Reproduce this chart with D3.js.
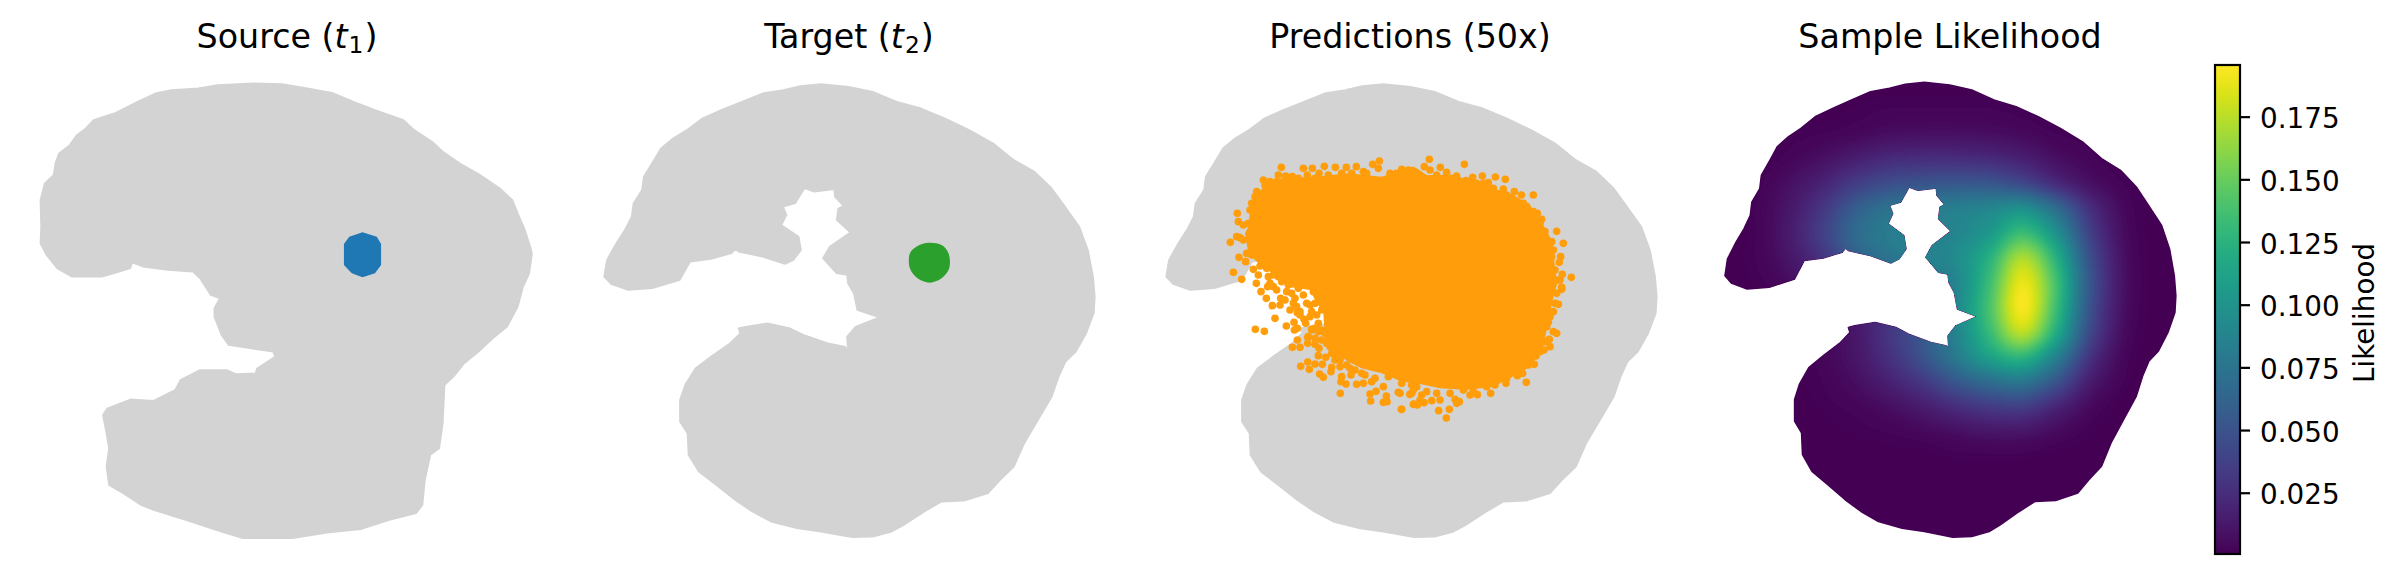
<!DOCTYPE html>
<html>
<head>
<meta charset="utf-8">
<script src="https://cdn.jsdelivr.net/npm/d3@7"></script>
<style>
  html, body { margin: 0; background: #fff; }
  svg { display: block; }
  text { font-family: "DejaVu Sans", sans-serif; fill: #000; }
</style>
</head>
<body>
<div id="chart"></div>
<script>
// slice outlines (spatial units, no meaning beyond the slice)
var sourceOutline = [[113,420],[125,370],[150,345],[155,310],[165,280],[195,255],[215,225],[240,205],[262,180],[320,160],[385,125],[435,100],[480,90],[555,85],[610,75],[710,70],[790,72],[860,85],[930,98],[990,125],[1050,150],[1130,180],[1160,210],[1210,245],[1240,275],[1295,315],[1345,345],[1400,385],[1435,420],[1450,460],[1470,510],[1485,560],[1490,580],[1482,640],[1465,680],[1450,740],[1420,800],[1380,835],[1340,875],[1300,910],[1270,950],[1245,975],[1240,1090],[1230,1165],[1205,1185],[1190,1260],[1183,1335],[1165,1360],[1090,1380],[1010,1408],[915,1418],[820,1435],[680,1435],[620,1415],[520,1380],[430,1350],[395,1335],[345,1300],[305,1275],[298,1220],[305,1165],[298,1120],[288,1065],[300,1045],[365,1018],[430,1022],[490,990],[505,960],[560,930],[635,930],[660,942],[715,940],[720,925],[770,890],[765,875],[700,865],[640,855],[620,825],[600,770],[600,745],[615,715],[590,705],[560,655],[540,635],[470,630],[400,620],[370,608],[365,625],[320,640],[285,650],[200,650],[160,625],[130,585],[113,550],[115,500]];

var targetOutline = [[70,650],[78,600],[105,550],[130,510],[150,470],[155,430],[180,390],[185,350],[215,300],[235,265],[270,235],[310,210],[355,175],[410,150],[470,125],[530,100],[590,90],[640,78],[700,72],[780,80],[850,95],[920,125],[990,145],[1060,175],[1130,210],[1200,250],[1260,300],[1320,335],[1370,385],[1405,435],[1450,500],[1475,570],[1490,650],[1495,710],[1492,760],[1470,820],[1440,875],[1410,905],[1390,950],[1370,1010],[1330,1080],[1290,1150],[1260,1220],[1220,1260],[1185,1300],[1115,1322],[1050,1325],[1000,1355],[940,1395],[905,1415],[850,1430],[790,1432],[700,1415],[630,1405],[555,1385],[500,1355],[450,1320],[395,1275],[345,1235],[315,1185],[312,1120],[290,1085],[290,1020],[305,975],[335,925],[380,890],[435,850],[465,820],[460,805],[480,800],[545,790],[610,805],[650,825],[720,850],[770,860],[778,875],[775,830],[800,800],[868,772],[805,750],[795,700],[778,670],[775,645],[745,640],[705,595],[725,560],[785,517],[745,480],[750,445],[765,438],[740,410],[738,388],[680,395],[652,385],[625,430],[590,440],[600,465],[585,495],[635,530],[642,570],[620,600],[595,612],[530,590],[460,575],[452,567],[440,580],[380,597],[320,605],[290,660],[210,685],[140,690],[90,672]];

var sourceSpot = [[1015,517],[1055,530],[1067,552],[1067,615],[1050,640],[1015,652],[985,640],[963,615],[963,552],[978,530]];
var targetSpot = [[1013,548],[1050,555],[1070,580],[1072,625],[1050,655],[1015,668],[980,655],[958,625],[958,580],[980,558]];

// predictions: the solid mass, then the loose samples around it by picture corner
var predCore = [[330,450],[350,400],[385,370],[425,355],[525,350],[625,340],[725,350],[785,330],[830,325],[860,345],[920,345],[1020,365],[1060,385],[1120,405],[1170,435],[1210,495],[1235,540],[1245,620],[1252,670],[1240,710],[1230,760],[1220,810],[1210,860],[1170,920],[1110,955],[1060,980],[980,990],[900,985],[830,970],[785,965],[725,940],[665,925],[625,905],[575,870],[555,835],[550,760],[525,720],[510,690],[440,680],[410,645],[370,625],[325,580],[315,520],[325,500]];
var predTopLeft = [[199,82],[265,85],[292,85],[328,79],[361,82],[394,82],[424,80],[493,63],[473,73],[190,105],[212,108],[232,110],[277,105],[312,100],[145,120],[165,125],[125,155],[120,170],[67,220],[70,245],[85,255],[65,290],[75,293],[46,307],[85,300],[72,352],[95,340],[92,365],[55,397],[80,418],[115,388],[135,378],[130,405],[124,430],[138,455],[158,440],[154,475],[172,497],[197,475],[195,495],[180,535],[121,568],[148,574],[214,558],[237,547],[247,518],[225,510],[238,570],[247,565],[280,590],[267,538],[272,550],[290,515],[290,568],[300,565],[255,515],[240,475],[220,435],[190,410],[175,440],[165,430],[275,490],[265,400],[150,135],[185,125],[250,115],[300,115],[340,105],[380,100],[410,100],[445,95],[490,85],[455,100],[110,190],[115,205],[105,210],[130,175],[100,250],[110,270],[120,290],[130,320],[110,345],[140,360],[155,385],[175,405],[200,425],[215,455],[235,490],[255,525],[265,465],[285,495],[305,525],[320,570],[320,510],[295,455],[250,445],[225,395],[185,450],[210,480],[130,340],[160,410],[230,460],[245,500],[300,490],[310,550],[285,530]];
var predBottomLeft = [[232,262],[247,240],[255,262],[278,232],[278,250],[300,253],[312,265],[310,287],[332,292],[278,306],[257,319],[283,328],[300,312],[322,313],[350,322],[348,335],[314,342],[325,352],[376,400],[380,350],[393,372],[378,365],[408,345],[425,373],[445,370],[440,340],[470,365],[465,402],[483,394],[467,423],[505,380],[505,427],[516,425],[514,408],[550,397],[559,448],[585,403],[595,433],[590,400],[365,285],[360,300],[375,320],[405,325],[335,250],[345,260],[345,240],[350,280],[375,300],[395,315],[420,330],[450,345],[480,355],[520,350],[560,370],[590,375],[330,220],[320,240],[300,235],[310,215],[290,210]];
var predTopRight = [[148,58],[133,80],[150,90],[181,82],[253,73],[65,88],[85,90],[98,92],[122,110],[170,105],[200,97],[230,108],[258,122],[278,112],[307,108],[325,128],[346,111],[376,118],[370,147],[403,155],[424,165],[460,165],[430,190],[472,220],[485,238],[530,274],[550,310],[515,305],[520,330],[542,350],[538,367],[547,403],[574,412],[540,420],[545,442],[30,100],[50,100],[110,120],[145,120],[190,115],[215,115],[245,125],[290,130],[310,130],[340,145],[380,165],[395,175],[440,200],[460,215],[480,250],[495,275],[510,310],[515,350],[525,390],[535,420]];
var predBottomRight = [[485,28],[475,73],[460,95],[445,127],[460,155],[470,160],[448,178],[450,200],[432,210],[408,228],[403,253],[368,280],[379,307],[352,287],[318,310],[285,315],[272,340],[232,344],[210,345],[178,365],[165,358],[170,370],[148,388],[116,392],[139,414],[120,360],[95,362],[72,368],[52,375],[42,372],[30,343],[5,388],[0,340],[65,345],[50,320],[470,40],[465,70],[450,110],[440,140],[435,185],[420,215],[385,255],[350,280],[320,295],[260,320],[220,335],[190,330],[150,340],[110,340],[80,335],[40,330],[60,360]];

var gridCols = [50,125,200,275,350,425,500,575,650,725,800,875,950,1025,1100];
var gridRows = [100,175,250,325,400,475,550,625,700,775,850,925,1000,1075,1150,1225,1300,1375,1450];
var likelihood = [
  [.001,.001,.001,.001,.001,.001,.001,.001,.001,.001,.001,.001,.001,.001,.001],
  [.001,.001,.001,.001,.002,.003,.003,.003,.003,.002,.001,.001,.001,.001,.001],
  [.001,.001,.002,.003,.005,.008,.009,.009,.008,.006,.003,.002,.001,.001,.001],
  [.001,.001,.004,.009,.017,.024,.026,.026,.024,.018,.009,.004,.001,.001,.001],
  [.001,.002,.009,.020,.036,.047,.052,.054,.053,.044,.025,.010,.003,.001,.001],
  [.001,.003,.013,.032,.058,.074,.080,.085,.090,.098,.070,.028,.006,.001,.001],
  [.001,.003,.015,.038,.068,.082,.085,.090,.105,.135,.100,.040,.008,.001,.001],
  [.001,.003,.012,.030,.058,.075,.085,.095,.125,.172,.125,.050,.010,.001,.001],
  [.001,.002,.007,.018,.036,.050,.070,.090,.135,.190,.138,.055,.011,.001,.001],
  [.001,.001,.003,.008,.017,.030,.055,.090,.140,.194,.135,.052,.010,.001,.001],
  [.001,.001,.002,.005,.013,.032,.055,.088,.132,.175,.120,.045,.008,.001,.001],
  [.001,.001,.002,.004,.012,.028,.050,.080,.110,.125,.085,.030,.005,.001,.001],
  [.001,.001,.001,.003,.008,.018,.032,.052,.068,.075,.050,.016,.003,.001,.001],
  [.001,.001,.001,.002,.004,.008,.015,.025,.033,.035,.020,.006,.001,.001,.001],
  [.001,.001,.001,.001,.002,.003,.005,.008,.011,.011,.006,.002,.001,.001,.001],
  [.001,.001,.001,.001,.001,.001,.001,.002,.002,.002,.001,.001,.001,.001,.001],
  [.001,.001,.001,.001,.001,.001,.001,.001,.001,.001,.001,.001,.001,.001,.001],
  [.001,.001,.001,.001,.001,.001,.001,.001,.001,.001,.001,.001,.001,.001,.001],
  [.001,.001,.001,.001,.001,.001,.001,.001,.001,.001,.001,.001,.001,.001,.001]
];

var colorTicks = [0.025, 0.05, 0.075, 0.1, 0.125, 0.15, 0.175];
var colorDomain = [0.00056, 0.1956];

var width = 2398;
var height = 576;
var grey = "#d3d3d3";

var svg = d3.select("#chart").append("svg")
  .attr("width", width)
  .attr("height", height);

function panelScales(x0, x1, y0, y1) {
  return {
    x: d3.scaleLinear().domain([0, 1568]).range([x0, x1]),
    y: d3.scaleLinear().domain([0, 1500]).range([y0, y1])
  };
}

function polyLine(s, curve) {
  return d3.line().x(function (d) { return s.x(d[0]); }).y(function (d) { return s.y(d[1]); })
    .curve(curve || d3.curveLinearClosed);
}

// slices get a thin round stroke of their own colour so corners don't look cut
function drawSlice(points, s, fill) {
  return svg.append("path")
    .attr("d", polyLine(s)(points))
    .attr("fill", fill)
    .attr("stroke", fill)
    .attr("stroke-width", 1.5)
    .attr("stroke-linejoin", "round");
}

var p1 = panelScales(0, 560, 60, 560);
var p2 = panelScales(580, 1120, 60, 560);
var p3 = panelScales(1142, 1682, 60, 560);
var p4 = panelScales(1702.8, 2199, 58.2, 560);

// panel 1
drawSlice(sourceOutline, p1, grey);
svg.append("path").attr("d", polyLine(p1)(sourceSpot)).attr("fill", "#1f77b4");

// panel 2
drawSlice(targetOutline, p2, grey);
svg.append("path").attr("d", polyLine(p2, d3.curveCatmullRomClosed.alpha(0.5))(targetSpot)).attr("fill", "#2ca02c");

// panel 3
drawSlice(targetOutline, p3, grey);

var orange = "#ff9d0a";
var predX = d3.scaleLinear().domain([0, 1620]).range([1140, 1680]);
var predY = d3.scaleLinear().domain([0, 1500]).range([60, 560]);

svg.append("path")
  .attr("d", polyLine({ x: predX, y: predY })(predCore))
  .attr("fill", orange);

// each list keeps the offset of the crop it was read from
[[predTopLeft, 225, 240], [predBottomLeft, 225, 600], [predTopRight, 720, 240], [predBottomRight, 780, 660]].forEach(function (set) {
  svg.append("g").selectAll("circle")
    .data(set[0])
    .enter().append("circle")
    .attr("cx", function (d) { return predX(d[0] + set[1]); })
    .attr("cy", function (d) { return predY(d[1] + set[2]); })
    .attr("r", 3.8)
    .attr("fill", orange);
});

// panel 4
var color = d3.scaleSequential(d3.interpolateViridis).domain(colorDomain);

// catmull-rom through the values read, so the contours come out smooth
function smoothRow(vals) {
  var n = vals.length - 1;
  return function (t) {
    var p = t * n, i = Math.min(Math.floor(p), n - 1), u = p - i;
    var a = vals[Math.max(i - 1, 0)], b = vals[i], c = vals[i + 1], d = vals[Math.min(i + 2, n)];
    return 0.5 * (2 * b + (c - a) * u + (2 * a - 5 * b + 4 * c - d) * u * u + (3 * b - a - 3 * c + d) * u * u * u);
  };
}

var fine = 8;
var rowCurves = likelihood.map(smoothRow);
var nx = (gridCols.length - 1) * fine + 1;
var ny = (gridRows.length - 1) * fine + 1;
var fineValues = new Array(nx * ny);
for (var i = 0; i < nx; i++) {
  var colCurve = smoothRow(rowCurves.map(function (f) { return f(i / (nx - 1)); }));
  for (var j = 0; j < ny; j++) {
    fineValues[j * nx + i] = colCurve(j / (ny - 1));
  }
}

var levels = d3.range(colorDomain[0], colorDomain[1], 0.0012);
var contours = d3.contours().size([nx, ny]).smooth(true).thresholds(levels)(fineValues);

var gridX = d3.scaleLinear().domain([0.5, nx - 0.5]).range(d3.extent(gridCols));
var gridY = d3.scaleLinear().domain([0.5, ny - 0.5]).range(d3.extent(gridRows));
// grid positions were read on a view of the panel 1568 x 1560 wide
var heatX = d3.scaleLinear().domain([0, 1568]).range([1700, 2398]);
var heatY = d3.scaleLinear().domain([0, 1560]).range([50, 570]);

var contourPath = d3.geoPath(d3.geoTransform({
  point: function (x, y) {
    this.stream.point(heatX(gridX(x)), heatY(gridY(y)));
  }
}));

svg.append("clipPath").attr("id", "slice")
  .append("path").attr("d", polyLine(p4)(targetOutline));

drawSlice(targetOutline, p4, color(colorDomain[0]));

var heat = svg.append("g").attr("clip-path", "url(#slice)");
heat.selectAll("path.band")
  .data(contours)
  .enter().append("path")
  .attr("class", "band")
  .attr("d", contourPath)
  .attr("fill", function (d) { return color(d.value); });

// colorbar
var barX = 2215, barW = 25;
var cbScale = d3.scaleLinear().domain(colorDomain).range([554, 65]);

var grad = svg.append("defs").append("linearGradient")
  .attr("id", "viridis").attr("x1", 0).attr("y1", 1).attr("x2", 0).attr("y2", 0);
d3.range(0, 33).forEach(function (k) {
  grad.append("stop")
    .attr("offset", k / 32)
    .attr("stop-color", d3.interpolateViridis(k / 32));
});

svg.append("rect")
  .attr("x", barX).attr("y", 65)
  .attr("width", barW).attr("height", 489)
  .attr("fill", "url(#viridis)")
  .attr("stroke", "#000").attr("stroke-width", 2.2);

var cbAxis = svg.append("g")
  .attr("transform", "translate(" + (barX + barW) + ",0)")
  .call(d3.axisRight(cbScale).tickValues(colorTicks).tickFormat(d3.format(".3f")).tickSize(10).tickPadding(10));
cbAxis.select(".domain").remove();
cbAxis.selectAll("line").attr("stroke-width", 2.2).attr("stroke", "#000");
cbAxis.selectAll("text").style("font-size", "27.8px").attr("dy", "0.4em").attr("fill", "#000");

svg.append("text")
  .attr("transform", "translate(2374,313) rotate(-90)")
  .attr("text-anchor", "middle")
  .style("font-size", "27.8px")
  .text("Likelihood");

// titles
function mathTitle(cx, label, sub) {
  var t = svg.append("text").attr("x", cx).attr("y", 47.5)
    .attr("text-anchor", "middle")
    .style("font-size", "33.3px");
  t.append("tspan").text(label + " (");
  t.append("tspan").style("font-style", "italic").text("t");
  t.append("tspan").attr("dx", 1).attr("dy", 5).style("font-size", "23.3px").text(sub);
  t.append("tspan").attr("dx", 1).attr("dy", -5).text(")");
}

mathTitle(287, "Source", "1");
mathTitle(849, "Target", "2");

svg.append("text").attr("x", 1410).attr("y", 47.5)
  .attr("text-anchor", "middle").style("font-size", "33.3px")
  .text("Predictions (50x)");
svg.append("text").attr("x", 1950).attr("y", 47.5)
  .attr("text-anchor", "middle").style("font-size", "33.3px")
  .text("Sample Likelihood");
</script>
</body>
</html>
